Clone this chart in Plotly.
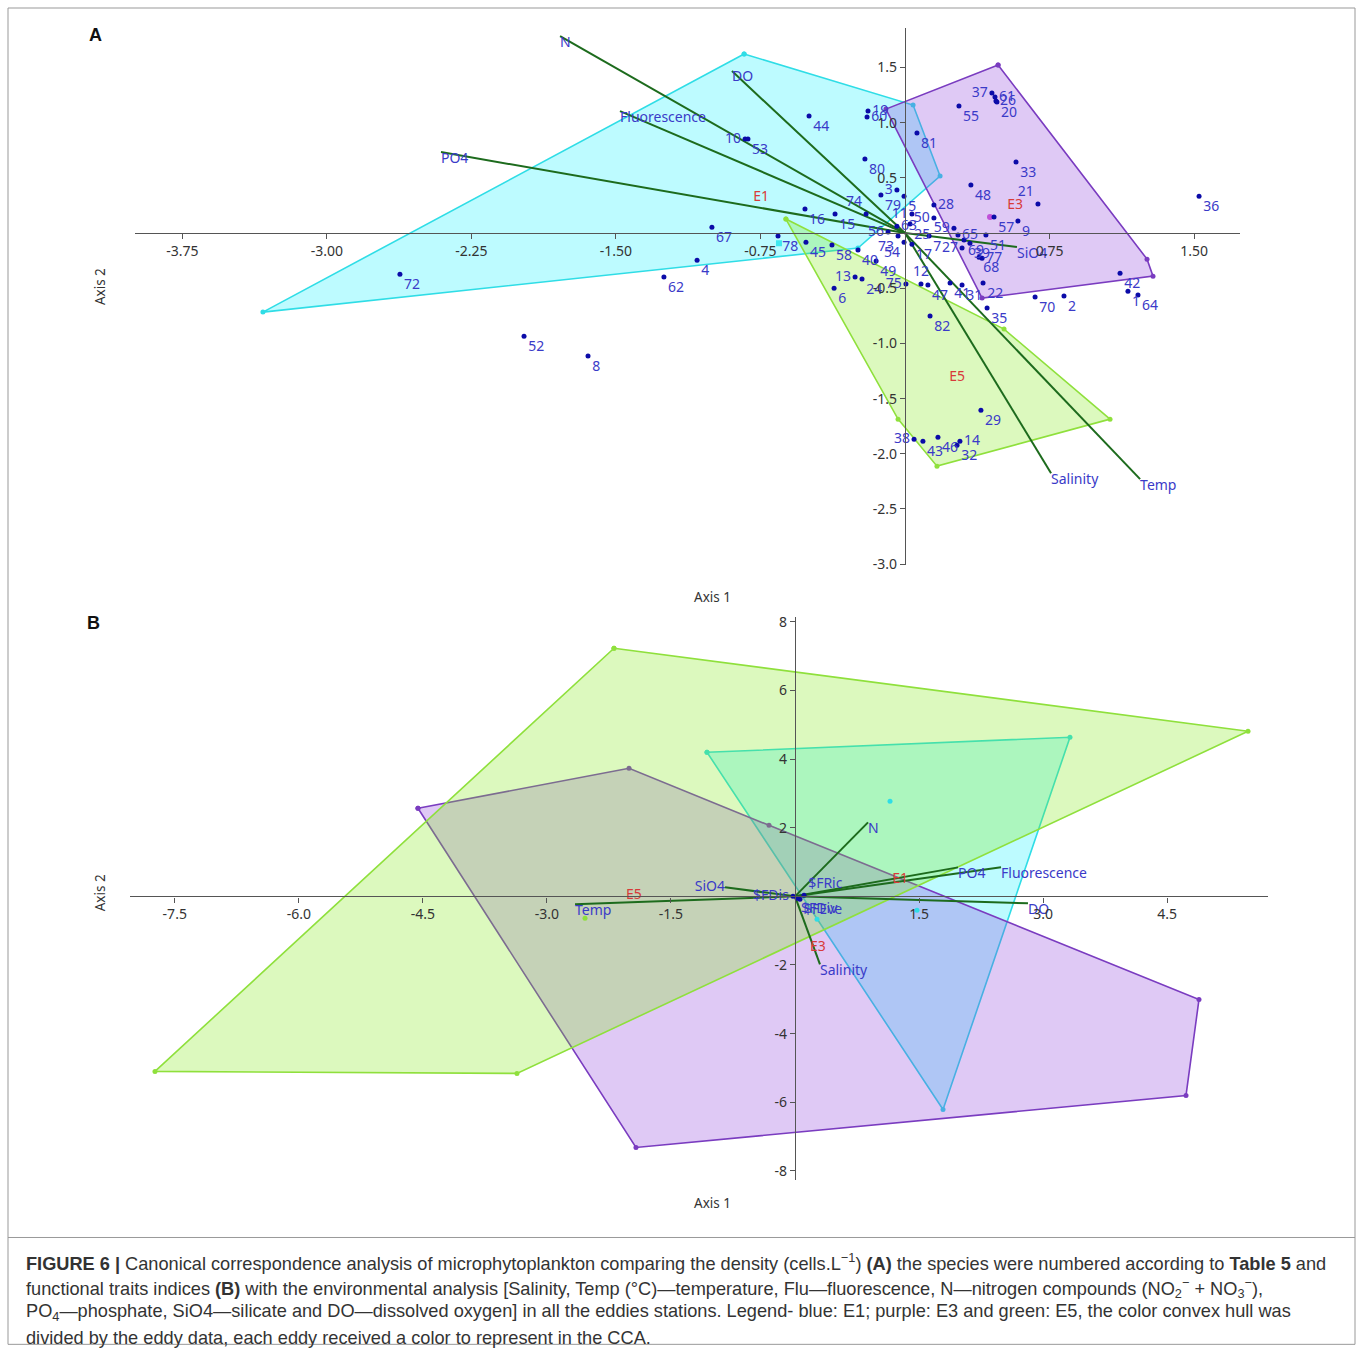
import plotly.graph_objects as go

W, H = 1360, 1353

# ---------------- Panel A data (species CCA) ----------------
a_species = ["72", "52", "8", "62", "4", "67", "78", "16", "45", "15", "58", "40", "49", "6", "13", "24",
             "75", "12", "47", "41", "31", "22", "35", "82", "70", "2", "42", "1", "64", "29", "38", "43",
             "46", "14", "32", "36", "9", "57", "21", "48", "33", "55", "37", "61", "26", "20", "81", "19",
             "60", "44", "10", "53", "80", "3", "79", "5", "74", "11", "28", "50", "56", "63", "73", "25",
             "54", "17", "7", "59", "65", "51", "27", "69", "39", "68", "77"]
a_sx = [-2.621, -1.977, -1.645, -1.251, -1.079, -1.002, -0.659, -0.519, -0.514, -0.363, -0.379, -0.244,
        -0.150, -0.368, -0.259, -0.223, 0.005, 0.083, 0.119, 0.234, 0.296, 0.405, 0.426, 0.130, 0.675,
        0.825, 1.116, 1.157, 1.209, 0.394, 0.047, 0.093, 0.171, 0.285, 0.270, 1.526, 0.586, 0.462, 0.690,
        0.342, 0.576, 0.280, 0.451, 0.467, 0.472, 0.477, 0.062, -0.192, -0.197, -0.498, -0.830, -0.815,
        -0.208, -0.042, -0.125, -0.005, -0.202, 0.036, 0.150, 0.150, -0.088, -0.042, -0.036, 0.026,
        -0.005, 0.036, 0.125, 0.254, 0.275, 0.420, 0.296, 0.306, 0.337, 0.384, 0.400]
a_sy = [-0.372, -0.934, -1.115, -0.399, -0.245, 0.054, -0.027, 0.218, -0.082, 0.172, -0.109, -0.154,
        -0.254, -0.499, -0.399, -0.417, -0.462, -0.462, -0.471, -0.453, -0.471, -0.453, -0.680, -0.752,
        -0.580, -0.571, -0.363, -0.526, -0.562, -1.605, -1.868, -1.886, -1.850, -1.886, -1.922, 0.335,
        0.109, 0.145, 0.263, 0.435, 0.644, 1.151, 1.269, 1.233, 1.197, 1.188, 0.907, 1.106, 1.052, 1.061,
        0.852, 0.852, 0.671, 0.390, 0.345, 0.335, 0.172, 0.172, 0.254, 0.136, 0.009, 0.063, -0.027,
        0.082, -0.082, -0.100, -0.027, 0.045, -0.018, -0.018, -0.136, -0.063, -0.091, -0.218, -0.227]
a_spos = ["bottom right"] * len(a_species)
_pos_override = {"13": "middle left", "75": "middle left", "12": "top center", "38": "middle left",
                 "14": "middle right", "21": "top left", "37": "middle left", "61": "middle right",
                 "26": "middle right", "19": "middle right", "60": "middle right", "10": "middle left",
                 "3": "middle left", "74": "top left", "11": "middle left", "28": "middle right",
                 "50": "middle left", "56": "middle left", "63": "middle right", "73": "bottom left",
                 "54": "bottom left", "59": "middle left", "65": "middle right", "27": "middle left",
                 "77": "middle right"}
a_spos = [_pos_override.get(s, p) for s, p in zip(a_species, a_spos)]

# convex hulls (eddy stations) panel A
a_e1_x = [-0.835, 0.042, 0.182, -0.244, -3.332]
a_e1_y = [1.623, 1.160, 0.517, -0.136, -0.716]
a_e3_x = [0.483, 1.256, 1.287, 0.400, -0.099]
a_e3_y = [1.523, -0.236, -0.390, -0.589, 1.124]
a_e5_x = [-0.618, 0.514, 1.064, 0.166, -0.036]
a_e5_y = [0.127, -0.870, -1.686, -2.112, -1.686]
a_centroid_e1 = (-0.654, -0.091)
a_centroid_e3 = (0.441, 0.145)

# environmental vectors panel A
a_env = ["N", "DO", "Fluorescence", "PO4", "SiO4", "Salinity", "Temp"]
a_env_x = [-1.790, -0.898, -1.479, -2.408, 0.581, 0.758, 1.220]
a_env_y = [1.786, 1.469, 1.106, 0.734, -0.127, -2.176, -2.230]

a_eddy = ["E1", "E3", "E5"]
a_eddy_x = [-0.747, 0.571, 0.270]
a_eddy_y = [0.326, 0.254, -1.306]

a_xticks = [-3.75, -3.00, -2.25, -1.50, -0.75, 0.75, 1.50]
a_xticktext = ["-3.75", "-3.00", "-2.25", "-1.50", "-0.75", "0.75", "1.50"]
a_yticks = [1.5, 1.0, 0.5, -0.5, -1.0, -1.5, -2.0, -2.5, -3.0]
a_yticktext = ["1.5", "1.0", "0.5", "-0.5", "-1.0", "-1.5", "-2.0", "-2.5", "-3.0"]

# ---------------- Panel B data (functional traits CCA) ----------------
b_e5_x = [-2.189, 5.478, -3.362, -7.739]
b_e5_y = [7.230, 4.810, -5.160, -5.102]
b_e3_x = [-4.559, -2.007, -0.314, 4.885, 4.728, -1.923]
b_e3_y = [2.566, 3.732, 2.070, -3.003, -5.802, -7.318]
b_e1_x = [-1.064, 3.325, 1.790]
b_e1_y = [4.198, 4.636, -6.210]
b_e5_inner_x = [-2.539]
b_e5_inner_y = [-0.641]
b_e1_inner_x = [1.149, 0.266, 1.475]
b_e1_inner_y = [2.770, -0.671, -0.408]

b_env = ["N", "PO4", "Fluorescence", "DO", "SiO4", "Temp", "Salinity"]
b_env_x = [0.883, 1.971, 2.491, 2.817, -0.846, -2.660, 0.302]
b_env_y = [2.157, 0.845, 0.845, -0.204, 0.262, -0.233, -1.983]
b_env_pos = ["bottom right", "bottom right", "bottom right", "bottom right", "middle left",
             "bottom right", "bottom right"]

b_idx = ["$FRic", "$FDis", "$FDiv", "$FEve"]
b_idx_x = [0.109, -0.024, 0.024, 0.060]
b_idx_y = [0.029, 0.000, -0.058, -0.087]
b_idx_pos = ["top right", "middle left", "bottom right", "bottom right"]

b_eddy = ["E1", "E3", "E5"]
b_eddy_x = [1.270, 0.278, -1.947]
b_eddy_y = [0.496, -1.487, 0.029]

b_xticks = [-7.5, -6.0, -4.5, -3.0, -1.5, 1.5, 3.0, 4.5]
b_xticktext = ["-7.5", "-6.0", "-4.5", "-3.0", "-1.5", "1.5", "3.0", "4.5"]
b_yticks = [8, 6, 4, 2, -2, -4, -6, -8]
b_yticktext = ["8", "6", "4", "2", "-2", "-4", "-6", "-8"]

caption_lines = [
    "<b>FIGURE 6 |</b> Canonical correspondence analysis of microphytoplankton comparing the density (cells.L<sup>−1</sup>) <b>(A)</b> the species were numbered according to <b>Table 5</b> and",
    "functional traits indices <b>(B)</b> with the environmental analysis [Salinity, Temp (°C)—temperature, Flu—fluorescence, N—nitrogen compounds (NO<sub>2</sub><sup>−</sup> + NO<sub>3</sub><sup>−</sup>),",
    "PO<sub>4</sub>—phosphate, SiO4—silicate and DO—dissolved oxygen] in all the eddies stations. Legend- blue: E1; purple: E3 and green: E5, the color convex hull was",
    "divided by the eddy data, each eddy received a color to represent in the CCA.",
]

# ---------------- styles ----------------
CY_LINE, CY_FILL = "#2fdde6", "rgba(0,238,255,0.26)"
PU_LINE, PU_FILL = "#7a3cc0", "rgba(140,60,220,0.28)"
GR_LINE, GR_FILL = "#8fe03c", "rgba(130,232,20,0.28)"
VEC = "#1d6b1d"
DOT = "#0b0ba8"
LAB = "#3a3ac8"
RED = "#d83a3a"
FONT = "Noto Sans"

# vertical placement correction (rendered page is slightly compressed vertically)
V_OFF, V_SCALE = 5.0, 0.99


def px2paper_x(px):
    return px / W


def px2paper_y(py):
    yl = (py - V_OFF) / V_SCALE
    return min(max(1 - yl / H, 0.0005), 0.9995)


fig = go.Figure()


def hull(xs, ys, line, fill, xa, ya):
    fig.add_trace(go.Scatter(x=xs + xs[:1], y=ys + ys[:1], mode="lines+markers", fill="toself",
                             fillcolor=fill, line=dict(color=line, width=1.6),
                             marker=dict(size=5, color=line), xaxis=xa, yaxis=ya,
                             hoverinfo="skip", showlegend=False))


# Panel A
hull(a_e1_x, a_e1_y, CY_LINE, CY_FILL, "x", "y")
hull(a_e3_x, a_e3_y, PU_LINE, PU_FILL, "x", "y")
hull(a_e5_x, a_e5_y, GR_LINE, GR_FILL, "x", "y")
fig.add_trace(go.Scatter(x=[a_centroid_e1[0]], y=[a_centroid_e1[1]], mode="markers",
                         marker=dict(size=6, color="#3fe8f0", symbol="square"), xaxis="x", yaxis="y",
                         showlegend=False))
fig.add_trace(go.Scatter(x=[a_centroid_e3[0]], y=[a_centroid_e3[1]], mode="markers",
                         marker=dict(size=6, color="#c050d8"), xaxis="x", yaxis="y", showlegend=False))
for ex, ey in zip(a_env_x, a_env_y):
    fig.add_trace(go.Scatter(x=[0, ex], y=[0, ey], mode="lines", line=dict(color=VEC, width=2),
                             xaxis="x", yaxis="y", showlegend=False, hoverinfo="skip"))
fig.add_trace(go.Scatter(x=a_env_x, y=a_env_y, mode="text", text=a_env, textposition="bottom right",
                         textfont=dict(family=FONT, size=14, color=LAB), xaxis="x", yaxis="y",
                         showlegend=False))
fig.add_trace(go.Scatter(x=a_sx, y=a_sy, mode="markers+text", text=a_species, textposition=a_spos,
                         marker=dict(size=5, color=DOT), textfont=dict(family=FONT, size=14, color=LAB),
                         xaxis="x", yaxis="y", showlegend=False))
fig.add_trace(go.Scatter(x=a_eddy_x, y=a_eddy_y, mode="text", text=a_eddy,
                         textfont=dict(family=FONT, size=14, color=RED), xaxis="x", yaxis="y",
                         showlegend=False))

# Panel B (E1 under E3 under E5, as in the reference blending)
hull(b_e1_x, b_e1_y, CY_LINE, CY_FILL, "x2", "y2")
hull(b_e3_x, b_e3_y, PU_LINE, PU_FILL, "x2", "y2")
hull(b_e5_x, b_e5_y, GR_LINE, GR_FILL, "x2", "y2")
fig.add_trace(go.Scatter(x=b_e5_inner_x, y=b_e5_inner_y, mode="markers", marker=dict(size=5, color=GR_LINE),
                         xaxis="x2", yaxis="y2", showlegend=False))
fig.add_trace(go.Scatter(x=b_e1_inner_x, y=b_e1_inner_y, mode="markers", marker=dict(size=5, color=CY_LINE),
                         xaxis="x2", yaxis="y2", showlegend=False))
for ex, ey in zip(b_env_x, b_env_y):
    fig.add_trace(go.Scatter(x=[0, ex], y=[0, ey], mode="lines", line=dict(color=VEC, width=2),
                             xaxis="x2", yaxis="y2", showlegend=False, hoverinfo="skip"))
fig.add_trace(go.Scatter(x=b_env_x, y=b_env_y, mode="text", text=b_env, textposition=b_env_pos,
                         textfont=dict(family=FONT, size=14, color=LAB), xaxis="x2", yaxis="y2",
                         showlegend=False))
fig.add_trace(go.Scatter(x=b_idx_x, y=b_idx_y, mode="markers+text", text=b_idx, textposition=b_idx_pos,
                         marker=dict(size=5, color=DOT), textfont=dict(family=FONT, size=14, color=LAB),
                         xaxis="x2", yaxis="y2", showlegend=False))
fig.add_trace(go.Scatter(x=b_eddy_x, y=b_eddy_y, mode="text", text=b_eddy,
                         textfont=dict(family=FONT, size=14, color=RED), xaxis="x2", yaxis="y2",
                         showlegend=False))

# axes geometry (pixels of reference)
A_L, A_R, A_T, A_B = 135, 1240, 28, 565
A_X0, A_Y0, A_SX, A_SY = 905, 233, 192.7, 110.3
B_L, B_R, B_T, B_B = 130, 1268, 617, 1180
B_X0, B_Y0, B_SX, B_SY = 795, 896, 82.7, 34.3

axis_common = dict(showgrid=False, zeroline=False, showline=True, linecolor="#555555", linewidth=1.3,
                   ticks="outside", ticklen=5, tickcolor="#555555",
                   tickfont=dict(family=FONT, size=14, color="#333333"), anchor="free", fixedrange=True)

fig.update_layout(
    width=W, height=H, margin=dict(l=0, r=0, t=0, b=0), paper_bgcolor="white", plot_bgcolor="rgba(0,0,0,0)",
    showlegend=False,
    xaxis=dict(domain=[px2paper_x(A_L), px2paper_x(A_R)],
               range=[(A_L - A_X0) / A_SX, (A_R - A_X0) / A_SX],
               position=px2paper_y(A_Y0), tickvals=a_xticks, ticktext=a_xticktext, **axis_common),
    yaxis=dict(domain=[px2paper_y(A_B), px2paper_y(A_T)],
               range=[(A_Y0 - A_B) / A_SY, (A_Y0 - A_T) / A_SY],
               position=px2paper_x(A_X0), tickvals=a_yticks, ticktext=a_yticktext, **axis_common),
    xaxis2=dict(domain=[px2paper_x(B_L), px2paper_x(B_R)],
                range=[(B_L - B_X0) / B_SX, (B_R - B_X0) / B_SX],
                position=px2paper_y(B_Y0), tickvals=b_xticks, ticktext=b_xticktext, **axis_common),
    yaxis2=dict(domain=[px2paper_y(B_B), px2paper_y(B_T)],
                range=[(B_Y0 - B_B) / B_SY, (B_Y0 - B_T) / B_SY],
                position=px2paper_x(B_X0), tickvals=b_yticks, ticktext=b_yticktext, **axis_common),
)

ann = []
axis_font = dict(family=FONT, size=13.5, color="#333333")
for (txt, x, y, ang) in [("Axis 1", 712, 597, 0), ("Axis 2", 100, 287, -90),
                         ("Axis 1", 712, 1203, 0), ("Axis 2", 100, 893, -90)]:
    ann.append(dict(text=txt, x=px2paper_x(x), y=px2paper_y(y), xref="paper", yref="paper",
                    xanchor="center", yanchor="middle", showarrow=False, textangle=ang, font=axis_font))
for (txt, x, y) in [("A", 95, 35), ("B", 93, 623)]:
    ann.append(dict(text="<b>%s</b>" % txt, x=px2paper_x(x), y=px2paper_y(y), xref="paper", yref="paper",
                    xanchor="center", yanchor="middle", showarrow=False,
                    font=dict(family="Liberation Sans", size=18, color="#111111")))
for i, line in enumerate(caption_lines):
    ann.append(dict(text=line, x=px2paper_x(24), y=px2paper_y(1262 + 25 * i), xref="paper", yref="paper",
                    xanchor="left", yanchor="middle", showarrow=False, align="left",
                    font=dict(family="Liberation Sans", size=18.2, color="#333333")))
fig.update_layout(annotations=ann)

fig.update_layout(shapes=[
    dict(type="rect", xref="paper", yref="paper", x0=px2paper_x(8), x1=px2paper_x(1355),
         y0=px2paper_y(1346), y1=px2paper_y(8), line=dict(color="#999999", width=1)),
    dict(type="line", xref="paper", yref="paper", x0=px2paper_x(8), x1=px2paper_x(1355),
         y0=px2paper_y(1237), y1=px2paper_y(1237), line=dict(color="#999999", width=1)),
])

fig.write_html("out.html", config={"displayModeBar": False},
               post_script="document.body.style.margin='0px';")
